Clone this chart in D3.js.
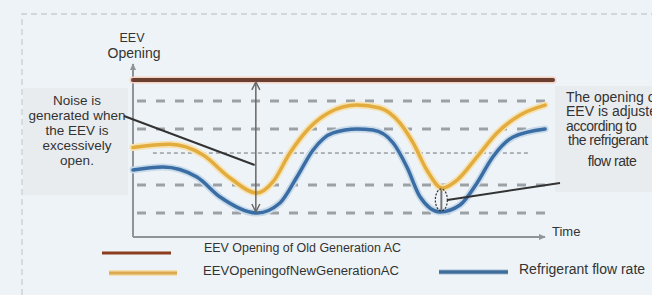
<!DOCTYPE html>
<html>
<head>
<meta charset="utf-8">
<script src="https://cdn.jsdelivr.net/npm/d3@7"></script>
<style>
  html, body { margin: 0; padding: 0; background: #eef3f7; }
  svg { display: block; font-family: "Liberation Sans", Arial, sans-serif; }
</style>
</head>
<body>
<div id="chart"></div>
<script>
// time axis runs 0..100, opening axis 0..100 (arbitrary units)
var oldGenT = [0, 101.2];
var oldGenV = [92.4, 92.4];

var newGenT = [0, 8.9, 16.9, 23.4, 29.9, 33.7, 37.8, 42.7, 47.5, 53.9, 59.5, 64.3, 67.5, 70.8, 74.5, 78.1, 82.9, 87.7, 93.3, 99.3];
var newGenV = [52.6, 54.5, 48.2, 34.7, 25.9, 32.4, 49.4, 64.7, 73.5, 77.6, 75.9, 67.1, 55.3, 39.4, 28.8, 33.5, 47.1, 61.2, 71.8, 77.6];

var flowT = [0, 7.2, 15.4, 21, 29.9, 35.4, 39.5, 43.4, 48.2, 54, 57.8, 62.7, 66, 69.2, 74, 78.8, 82.9, 86.7, 91.6, 99.3];
var flowV = [39.4, 41.2, 35.3, 23.5, 14.1, 20, 35.3, 51.2, 61.2, 63.5, 62.9, 55.3, 41.2, 23.5, 14.7, 18.8, 31.8, 47.1, 58.8, 63.5];

var guideLevels = [80, 63.5, 30.6, 14.1];
var midLevel = 49.4;

var legendLabels = ["EEV Opening of Old Generation AC", "EEVOpeningofNewGenerationAC", "Refrigerant flow rate"];
var noiseNote = ["Noise is", "generated when", "the EEV is", "excessively", "open."];
var adjustNote = ["The opening of", "EEV is adjusted", "according to", "the refrigerant", "flow rate"];

var W = 652, H = 295;
var x = d3.scaleLinear().domain([0, 100]).range([133, 548]);
var y = d3.scaleLinear().domain([0, 100]).range([237, 67]);

var svg = d3.select("#chart").append("svg")
    .attr("width", W)
    .attr("height", H);

var defs = svg.append("defs");
defs.append("marker")
    .attr("id", "open")
    .attr("viewBox", "0 0 10 10")
    .attr("refX", 9).attr("refY", 5)
    .attr("markerWidth", 10).attr("markerHeight", 10)
    .attr("markerUnits", "userSpaceOnUse")
    .attr("orient", "auto-start-reverse")
    .append("path")
    .attr("d", "M1,1 L9,5 L1,9")
    .style("fill", "none")
    .style("stroke", "#666")
    .style("stroke-width", 1.4);
defs.append("marker")
    .attr("id", "axisHead")
    .attr("viewBox", "0 0 10 10")
    .attr("refX", 8).attr("refY", 5)
    .attr("markerWidth", 8).attr("markerHeight", 8)
    .attr("markerUnits", "userSpaceOnUse")
    .attr("orient", "auto")
    .append("path")
    .attr("d", "M0,1 L9,5 L0,9 Z")
    .style("fill", "#8d949a");

// outer dashed frame
svg.append("path")
    .attr("d", "M22,295 L22,14 L652,14")
    .style("fill", "none")
    .style("stroke", "#c9ced3")
    .style("stroke-width", 1.3)
    .style("stroke-dasharray", "6 4");

// annotation boxes
svg.append("rect").attr("x", 23).attr("y", 88).attr("width", 105).attr("height", 107).style("fill", "#e9ecef");
svg.append("rect").attr("x", 555).attr("y", 86).attr("width", 97).attr("height", 106).style("fill", "#e9ecef");

// guide lines
svg.selectAll(".guide").data(guideLevels).enter().append("line")
    .attr("class", "guide")
    .attr("x1", x(0)).attr("x2", x(99.5))
    .attr("y1", d => y(d)).attr("y2", d => y(d))
    .style("stroke", "#8e9398")
    .style("stroke-width", 3)
    .style("stroke-dasharray", "9 10")
    .style("stroke-dashoffset", -4)
    .style("opacity", 0.85);

svg.append("line")
    .attr("x1", x(4.8)).attr("x2", x(95.4))
    .attr("y1", y(midLevel)).attr("y2", y(midLevel))
    .style("stroke", "#6f7479")
    .style("stroke-width", 1)
    .style("stroke-dasharray", "4 3");

// axes
svg.append("line")
    .attr("x1", x(0)).attr("y1", y(0)).attr("x2", x(0)).attr("y2", 64)
    .style("stroke", "#8d949a").style("stroke-width", 2)
    .attr("marker-end", "url(#axisHead)");
svg.append("line")
    .attr("x1", x(0)).attr("y1", y(0)).attr("x2", 545).attr("y2", y(0))
    .style("stroke", "#8d949a").style("stroke-width", 2)
    .attr("marker-end", "url(#axisHead)");

function series(ts, vs) {
    return ts.map(function(t, i) { return [t, vs[i]]; });
}

var line = d3.line()
    .x(d => x(d[0]))
    .y(d => y(d[1]))
    .curve(d3.curveMonotoneX);

function drawCurve(data, halo, core, wHalo, wCore) {
    svg.append("path").datum(data).attr("d", line)
        .style("fill", "none").style("stroke", halo).style("stroke-width", wHalo)
        .style("stroke-linecap", "round");
    svg.append("path").datum(data).attr("d", line)
        .style("fill", "none").style("stroke", core).style("stroke-width", wCore)
        .style("stroke-linecap", "round");
}

drawCurve(series(oldGenT, oldGenV), "#f2d3c6", "#6b3e32", 7, 4);
drawCurve(series(newGenT, newGenV), "#f6e2b2", "#e2ad3e", 7, 3.5);
drawCurve(series(flowT, flowV), "#c8daea", "#3a6da3", 7, 3.5);

// double arrow showing swing of opening
svg.append("line")
    .attr("x1", x(29.6)).attr("x2", x(29.6))
    .attr("y1", y(oldGenV[0]) + 2).attr("y2", y(14.1) - 1)
    .style("stroke", "#666").style("stroke-width", 1.5)
    .attr("marker-start", "url(#open)")
    .attr("marker-end", "url(#open)");

// small ellipse around the adjusted gap
svg.append("ellipse")
    .attr("cx", x(74.3)).attr("cy", y(21.8))
    .attr("rx", 6).attr("ry", 11)
    .style("fill", "none").style("stroke", "#333")
    .style("stroke-width", 1.2).style("stroke-dasharray", "2 1.5");
svg.append("line")
    .attr("x1", x(74.3)).attr("x2", x(74.3))
    .attr("y1", y(28.8) + 2).attr("y2", y(14.7) - 2)
    .style("stroke", "#777").style("stroke-width", 2);

// pointer lines
svg.append("line")
    .attr("x1", 124).attr("y1", 116).attr("x2", x(29.3)).attr("y2", 165)
    .style("stroke", "#333").style("stroke-width", 2);
svg.append("line")
    .attr("x1", x(74.3) + 6).attr("y1", 200).attr("x2", 560).attr("y2", 183)
    .style("stroke", "#333").style("stroke-width", 2);

// texts
var txt = svg.append("g").style("fill", "#333");
txt.append("text").attr("x", 132).attr("y", 42).attr("text-anchor", "middle")
    .style("font-size", "12.5px").text("EEV");
txt.append("text").attr("x", 134).attr("y", 58).attr("text-anchor", "middle")
    .style("font-size", "14px").text("Opening");
txt.append("text").attr("x", 552).attr("y", 236)
    .style("font-size", "13px").text("Time");

txt.selectAll(".noise").data(noiseNote).enter().append("text")
    .attr("x", 77).attr("y", (d, i) => 105 + i * 15)
    .attr("text-anchor", "middle")
    .style("font-size", "13.5px")
    .text(d => d);

txt.selectAll(".adjust").data(adjustNote).enter().append("text")
    .attr("x", (d, i) => i === 4 ? 612 : (i === 3 ? 568 : 566))
    .attr("y", (d, i) => [102, 116, 131, 145, 166][i])
    .attr("text-anchor", (d, i) => i === 4 ? "middle" : "start")
    .style("font-size", "14px").style("letter-spacing", (d, i) => i >= 2 ? "-0.5px" : "0px")
    .text(d => d);

// legend
var legend = svg.append("g");
legend.append("line").attr("x1", 102).attr("x2", 171).attr("y1", 253).attr("y2", 253)
    .style("stroke", "#8c3d1e").style("stroke-width", 3);
legend.append("line").attr("x1", 109).attr("x2", 177).attr("y1", 273).attr("y2", 273)
    .style("stroke", "#f6dfae").style("stroke-width", 6);
legend.append("line").attr("x1", 109).attr("x2", 177).attr("y1", 273).attr("y2", 273)
    .style("stroke", "#dba94f").style("stroke-width", 3);
legend.append("line").attr("x1", 439).attr("x2", 508).attr("y1", 272).attr("y2", 272)
    .style("stroke", "#c9d9e8").style("stroke-width", 6);
legend.append("line").attr("x1", 439).attr("x2", 508).attr("y1", 272).attr("y2", 272)
    .style("stroke", "#3f6d9a").style("stroke-width", 3.5);

legend.append("text").attr("x", 204).attr("y", 252)
    .attr("textLength", 197).attr("lengthAdjust", "spacingAndGlyphs")
    .style("font-size", "12.5px").style("fill", "#333").text(legendLabels[0]);
legend.append("text").attr("x", 203).attr("y", 275)
    .attr("textLength", 196).attr("lengthAdjust", "spacingAndGlyphs")
    .style("font-size", "12.5px").style("fill", "#333").text(legendLabels[1]);
legend.append("text").attr("x", 519).attr("y", 274)
    .style("font-size", "14px").style("fill", "#333").text(legendLabels[2]);
</script>
</body>
</html>
